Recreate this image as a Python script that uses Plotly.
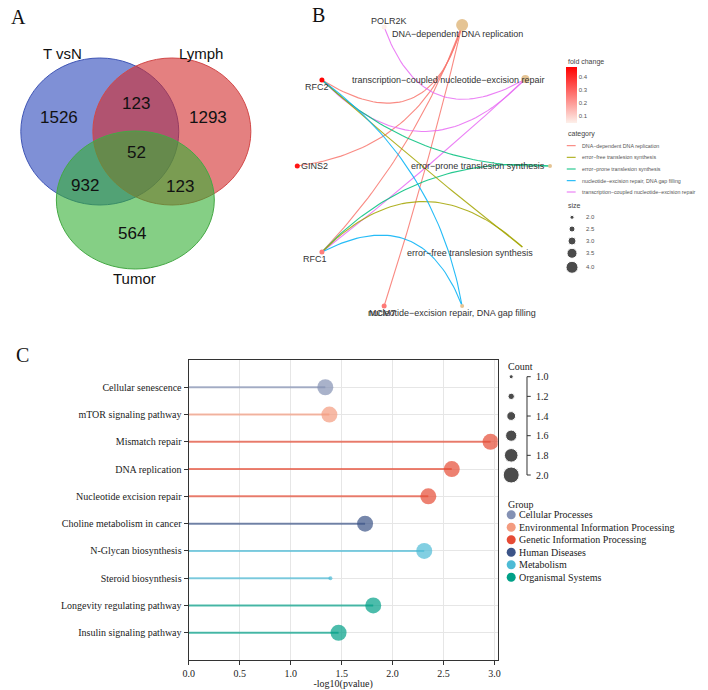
import numpy as np
import plotly.graph_objects as go

W, H = 708, 690

# ---------------- Panel A: Venn data ----------------
venn_set_names = ["T vsN", "Lymph", "Tumor"]
venn_region_names = ["T vsN only", "T vsN & Lymph", "Lymph only", "all three",
                     "T vsN & Tumor", "Lymph & Tumor", "Tumor only"]
venn_counts = [1526, 123, 1293, 52, 932, 123, 564]

# ---------------- Panel B: network data ----------------
gene_names = ["POLR2K", "RFC2", "GINS2", "RFC1", "MCM7"]
gene_fold_change = [0.05, 0.47, 0.44, 0.25, 0.26]
term_names = ["DNA\u2212dependent DNA replication",
              "error\u2212free translesion synthesis",
              "error\u2212prone translesion synthesis",
              "nucleotide\u2212excision repair, DNA gap filling",
              "transcription\u2212coupled nucleotide\u2212excision repair"]
edge_genes = ["RFC2", "GINS2", "RFC1", "MCM7",
              "POLR2K", "RFC2", "RFC1",
              "RFC2", "RFC1",
              "RFC2", "RFC1",
              "RFC2", "RFC1"]
edge_terms = [term_names[0]] * 4 + [term_names[4]] * 3 + [term_names[2]] * 2 + \
             [term_names[1]] * 2 + [term_names[3]] * 2
size_levels = [2.0, 2.5, 3.0, 3.5, 4.0]

# ---------------- Panel C: KEGG lollipop data ----------------
pathways = ["Cellular senescence", "mTOR signaling pathway", "Mismatch repair",
            "DNA replication", "Nucleotide excision repair",
            "Choline metabolism in cancer", "N-Glycan biosynthesis",
            "Steroid biosynthesis", "Longevity regulating pathway",
            "Insulin signaling pathway"]
neg_log10_p = [1.34, 1.38, 2.96, 2.58, 2.35, 1.73, 2.31, 1.39, 1.81, 1.47]
gene_count = [2, 2, 2, 2, 2, 2, 2, 1, 2, 2]
pathway_group = ["Cellular Processes", "Environmental Information Processing",
                 "Genetic Information Processing", "Genetic Information Processing",
                 "Genetic Information Processing", "Human Diseases", "Metabolism",
                 "Metabolism", "Organismal Systems", "Organismal Systems"]
group_names = ["Cellular Processes", "Environmental Information Processing",
               "Genetic Information Processing", "Human Diseases", "Metabolism",
               "Organismal Systems"]
count_levels = [1.0, 1.2, 1.4, 1.6, 1.8, 2.0]

# ---------------- styles / layout ----------------
SERIF = "Liberation Serif"
SANS = "Liberation Sans"
group_colors = ["#8491B4", "#F39B7F", "#E64B35", "#3C5488", "#4DBBD5", "#00A087"]
cat_colors = ["#F8766D", "#A3A500", "#00BF7D", "#00B0F6", "#E76BF3"]
term_color = "#E5C494"


def rgba(hexc, a):
    hexc = hexc.lstrip("#")
    r, g, b = int(hexc[0:2], 16), int(hexc[2:4], 16), int(hexc[4:6], 16)
    return f"rgba({r},{g},{b},{a})"


def count_size(c):
    return 4 + (c - 1) * 12


def term_size(s):
    return 4 + (s - 2) * 4


fig = go.Figure()
annos = []
shapes = []


def txt(x, y, s, size, family=SANS, color="#222", xanchor="center", yanchor="middle"):
    annos.append(dict(x=x, y=y, xref="x2", yref="y2", text=s, showarrow=False,
                      xanchor=xanchor, yanchor=yanchor,
                      font=dict(size=size, family=family, color=color)))


# ---- Panel A ----
venn_ellipses = [(15, 58, 175, 205), (88, 58, 248, 205), (51, 131, 211, 269)]
venn_fill = [rgba("#2A46BB", 0.6), rgba("#D22B2B", 0.6), rgba("#34AF34", 0.6)]
venn_line = ["#3F55B5", "#D24848", "#45A845"]
for (x0, y0, x1, y1), fc, lc in zip(venn_ellipses, venn_fill, venn_line):
    shapes.append(dict(type="circle", xref="x2", yref="y2", x0=x0, y0=y0, x1=x1, y1=y1,
                       fillcolor=fc, line=dict(color=lc, width=1), layer="below"))
set_label_xy = [(57, 53), (198, 53), (130, 278)]
for (x, y), s in zip(set_label_xy, venn_set_names):
    txt(x, y, s, 15, color="#111")
region_xy = [(54, 117), (132, 103), (205, 117), (132, 152), (80, 185), (176, 186), (128, 233)]
for (x, y), c in zip(region_xy, venn_counts):
    txt(x, y, str(c), 17, color="#111")

# ---- Panel B ----
node_xy = {
    "POLR2K": (383, 27), "RFC2": (320, 80), "GINS2": (295, 166), "RFC1": (320, 252),
    "MCM7": (383, 306),
    term_names[0]: (462, 25), term_names[4]: (526, 79), term_names[2]: (551, 166),
    term_names[1]: (523, 247), term_names[3]: (462, 306),
}
edge_bend = [50, 35, 14, 3, 45, 52, 3, 25, -30, 2, -48, -27, -42]


def curve(p0, p2, off, n=50):
    p0 = np.array(p0, float)
    p2 = np.array(p2, float)
    d = p2 - p0
    L = np.hypot(d[0], d[1])
    nrm = np.array([-d[1], d[0]]) / L
    c = (p0 + p2) / 2 + 2 * off * nrm
    t = np.linspace(0, 1, n)[:, None]
    return (1 - t) ** 2 * p0 + 2 * (1 - t) * t * c + t ** 2 * p2


for g, t, b in zip(edge_genes, edge_terms, edge_bend):
    pts = curve(node_xy[g], node_xy[t], b)
    col = cat_colors[term_names.index(t)]
    fig.add_trace(go.Scatter(x=pts[:, 0], y=pts[:, 1], mode="lines", xaxis="x2", yaxis="y2",
                             line=dict(color=rgba(col, 0.85), width=1.1),
                             hoverinfo="skip", showlegend=False))

# term nodes (size = number of genes)
term_sizes = [edge_terms.count(t) for t in term_names]
tx = [node_xy[t][0] for t in term_names]
ty = [node_xy[t][1] for t in term_names]
fig.add_trace(go.Scatter(x=tx, y=ty, mode="markers", xaxis="x2", yaxis="y2",
                         marker=dict(size=[term_size(s) for s in term_sizes], color=term_color,
                                     opacity=[1, 0, 1, 1, 1], line=dict(width=0)),
                         hoverinfo="skip", showlegend=False))
# gene nodes with fold change colour bar
gx = [node_xy[g][0] for g in gene_names]
gy = [node_xy[g][1] for g in gene_names]
fig.add_trace(go.Scatter(
    x=gx, y=gy, mode="markers", xaxis="x2", yaxis="y2",
    marker=dict(size=5, color=gene_fold_change, cmin=0.046, cmax=0.477,
                colorscale=[[0, "#FDF0EA"], [1, "#FF0000"]], line=dict(width=0),
                showscale=True,
                colorbar=dict(x=567 / W, xanchor="left", y=1 - 95 / H, yanchor="middle",
                              len=56, lenmode="pixels", thickness=11, thicknessmode="pixels",
                              outlinewidth=0, xpad=0, ypad=0, ticks="",
                              tickvals=[0.1, 0.2, 0.3, 0.4],
                              tickfont=dict(size=6, family=SANS, color="#555"))),
    hoverinfo="skip", showlegend=False))

gene_label_xy = {"POLR2K": (388, 21), "RFC2": (315, 87), "GINS2": (312, 166),
                 "RFC1": (313, 259), "MCM7": (381, 313)}
for g in gene_names:
    txt(*gene_label_xy[g], g, 9, color="#333")
term_label_xy = [(457, 34), (470, 253), (478, 166), (452, 313), (448, 80)]
for (x, y), t in zip(term_label_xy, term_names):
    txt(x, y, t, 9, color="#333")

# panel B legends
txt(567, 62, "fold change", 7, color="#444", xanchor="left")
txt(567, 134, "category", 7, color="#444", xanchor="left")
cat_y = [145.7, 157.3, 169, 180.7, 192]
for y, t, c in zip(cat_y, term_names, cat_colors):
    fig.add_trace(go.Scatter(x=[568, 577], y=[y, y], mode="lines", xaxis="x2", yaxis="y2",
                             line=dict(color=c, width=1), hoverinfo="skip", showlegend=False))
    txt(581.5, y, t, 5.3, color="#555", xanchor="left")
txt(567, 205, "size", 7, color="#444", xanchor="left")
size_y = [217.3, 229, 241, 253.3, 267.3]
fig.add_trace(go.Scatter(x=[573.3] * 5, y=size_y, mode="markers", xaxis="x2", yaxis="y2",
                         marker=dict(size=[term_size(s) for s in size_levels], color="black"),
                         hoverinfo="skip", showlegend=False))
for y, s in zip(size_y, size_levels):
    txt(585.5, y, f"{s:.1f}", 6, color="#555", xanchor="left")

# ---- Panel C ----
for gi, gname in enumerate(group_names):
    idx = [i for i, g in enumerate(pathway_group) if g == gname]
    xs, ys = [], []
    for i in idx:
        xs += [0, neg_log10_p[i], None]
        ys += [pathways[i], pathways[i], None]
    fig.add_trace(go.Scatter(x=xs, y=ys, mode="lines",
                             line=dict(color=rgba(group_colors[gi], 0.7), width=2),
                             hoverinfo="skip", showlegend=False))
    fig.add_trace(go.Scatter(x=[neg_log10_p[i] for i in idx], y=[pathways[i] for i in idx],
                             mode="markers",
                             marker=dict(size=[count_size(gene_count[i]) for i in idx],
                                         color=group_colors[gi], line=dict(width=0)),
                             showlegend=False))

# Count legend
txt(506.7, 366.7, "Count", 10, family=SERIF, color="#222", xanchor="left")
cy = [376.7 + k * 19.66 for k in range(len(count_levels))]
fig.add_trace(go.Scatter(x=[511.7] * len(cy), y=cy, mode="markers", xaxis="x2", yaxis="y2",
                         marker=dict(size=[count_size(c) for c in count_levels], color="black"),
                         hoverinfo="skip", showlegend=False))
shapes.append(dict(type="line", xref="x2", yref="y2", x0=527.7, x1=527.7, y0=cy[0], y1=cy[-1],
                   line=dict(color="#333", width=1)))
for y, c in zip(cy, count_levels):
    shapes.append(dict(type="line", xref="x2", yref="y2", x0=527.7, x1=531.5, y0=y, y1=y,
                       line=dict(color="#333", width=1)))
    txt(534.5, y, f"{c:.1f}", 10, family=SERIF, color="#222", xanchor="left")

# Group legend
txt(506.7, 504.5, "Group", 10, family=SERIF, color="#222", xanchor="left")
gy_leg = [514.8 + k * 12.48 for k in range(len(group_names))]
fig.add_trace(go.Scatter(x=[511.7] * len(gy_leg), y=gy_leg, mode="markers", xaxis="x2", yaxis="y2",
                         marker=dict(size=9, color=group_colors),
                         hoverinfo="skip", showlegend=False))
for y, gname in zip(gy_leg, group_names):
    txt(517.5, y, gname, 10, family=SERIF, color="#222", xanchor="left")

# panel letters
txt(13, 17, "A", 20, family=SERIF, color="#111")
txt(317, 15, "B", 20, family=SERIF, color="#111")
txt(17, 355, "C", 20, family=SERIF, color="#111")

fig.update_layout(
    width=W, height=H, margin=dict(l=0, r=0, t=0, b=0),
    paper_bgcolor="white", plot_bgcolor="rgba(0,0,0,0)",
    showlegend=False, hovermode=False,
    xaxis=dict(domain=[185 / W, 498 / W], range=[0, 3.03],
               tickvals=[0, 0.5, 1, 1.5, 2, 2.5, 3], tickformat=".1f",
               ticks="outside", ticklen=4, tickcolor="#333",
               showline=True, linecolor="#333", linewidth=1.2, mirror=True,
               showgrid=True, gridcolor="#E6E6E6", gridwidth=1, zeroline=False,
               tickfont=dict(family=SERIF, size=10, color="#222"),
               title=dict(text="-log10(pvalue)", standoff=4,
                          font=dict(family=SERIF, size=10, color="#222"))),
    yaxis=dict(domain=[(H - 660) / H, (H - 360) / H], type="category",
               categoryorder="array", categoryarray=pathways, range=[10, -1],
               ticks="outside", ticklen=4, tickcolor="#333",
               showline=True, linecolor="#333", linewidth=1.2, mirror=True,
               showgrid=True, gridcolor="#E6E6E6", gridwidth=1, zeroline=False,
               tickfont=dict(family=SERIF, size=10, color="#222")),
    xaxis2=dict(domain=[0, 1], range=[0, W], visible=False, anchor="y2"),
    yaxis2=dict(domain=[0, 1], range=[H, 0], visible=False, anchor="x2"),
    annotations=annos, shapes=shapes,
)

fig.write_html("out.html", config={"displayModeBar": False},
               post_script="document.body.style.margin='0';document.body.style.overflow='hidden';")
